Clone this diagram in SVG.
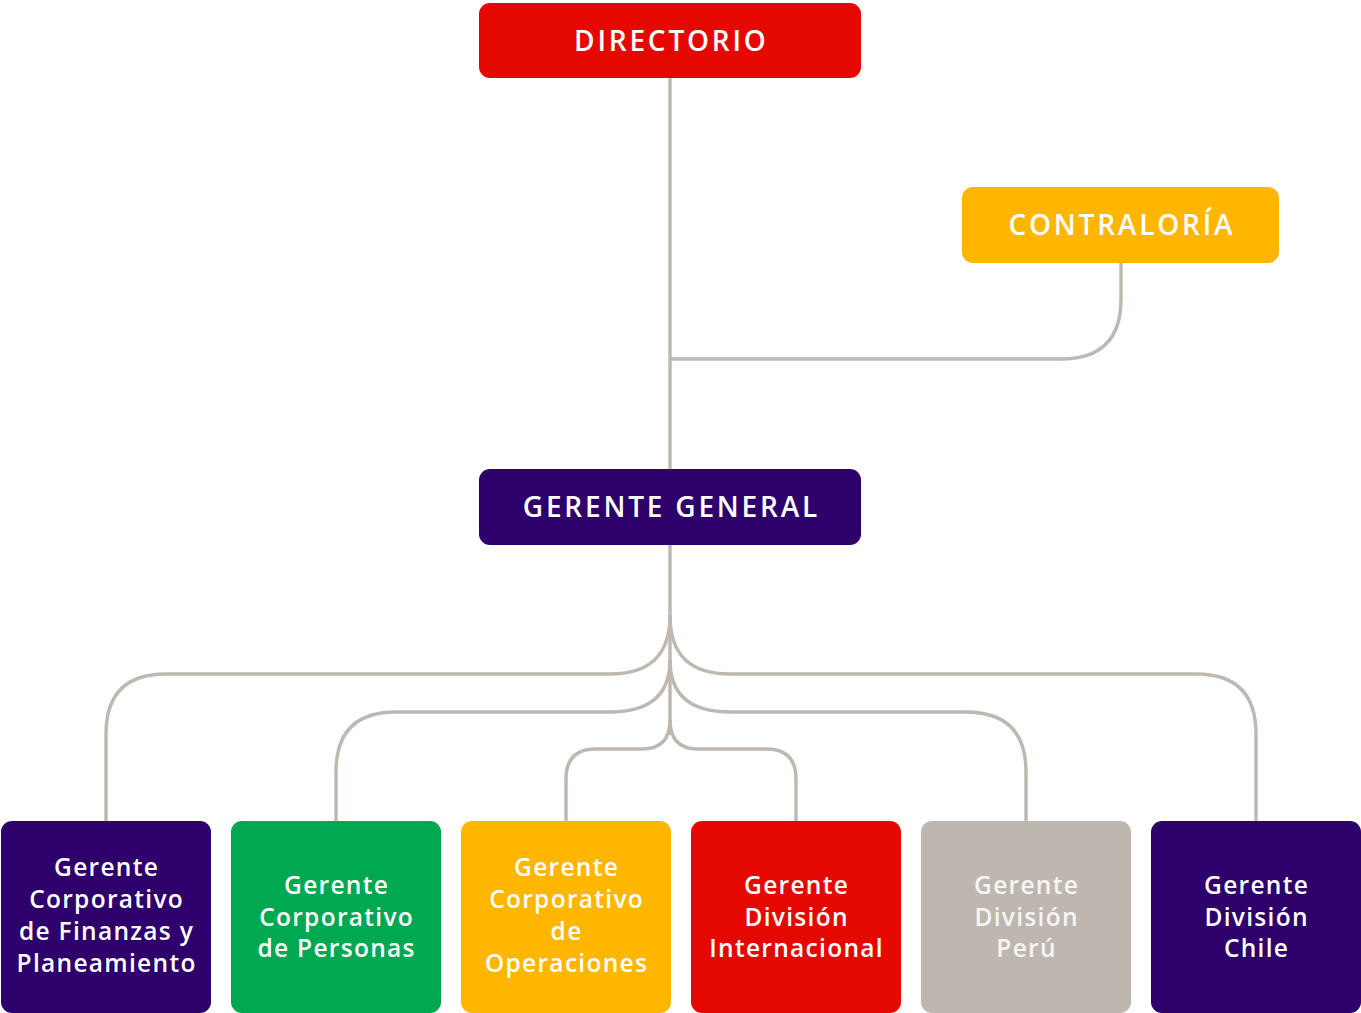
<svg xmlns="http://www.w3.org/2000/svg" width="1361" height="1013" viewBox="0 0 1361 1013">
<style>
.c{fill:none;stroke:#BFB8B1;stroke-width:3.4}
.h{font-family:"Open Sans","Liberation Sans",sans-serif;font-weight:600;font-size:28px;fill:#fff;text-anchor:middle;letter-spacing:2.8px}
.t{font-family:"Open Sans","Liberation Sans",sans-serif;font-weight:600;font-size:24.5px;fill:#fff;text-anchor:middle;letter-spacing:1.3px}
</style>
<rect width="1361" height="1013" fill="#fff"/>
<g id="connectors">
<path class="c" d="M670,78 V469"/>
<path class="c" d="M670,359 H1061 Q1121,359 1121,299 V263"/>
<path class="c" d="M670,545 V735"/>
<path class="c" d="M670,615 C670,655 650,674 610,674 H166 Q106,674 106,734 V821"/>
<path class="c" d="M670,615 C670,655 690,674 730,674 H1196 Q1256,674 1256,734 V821"/>
<path class="c" d="M670,660 C670,695 650,712 610,712 H396 Q336,712 336,772 V821"/>
<path class="c" d="M670,660 C670,695 690,712 730,712 H966 Q1026,712 1026,772 V821"/>
<path class="c" d="M670,720 C670,740 660,749 642,749 H596 Q566,749 566,779 V821"/>
<path class="c" d="M670,720 C670,740 680,749 698,749 H766 Q796,749 796,779 V821"/>
</g>
<g id="directorio"><rect x="479" y="3" width="382" height="75" rx="11" fill="#E50800"/><text class="h" x="671.4" y="51">DIRECTORIO</text></g>
<g id="contraloria"><rect x="962" y="187" width="317" height="76" rx="11" fill="#FFB600"/><text class="h" x="1121.9" y="235">CONTRALORÍA</text></g>
<g id="gerente-general"><rect x="479" y="469" width="382" height="76" rx="11" fill="#2E006B"/><text class="h" x="671.4" y="517">GERENTE GENERAL</text></g>
<g id="finanzas"><rect x="1" y="821" width="210" height="192" rx="11" fill="#2E006B"/><text class="t" x="106.6" y="876">Gerente</text><text class="t" x="106.6" y="908">Corporativo</text><text class="t" x="106.6" y="940">de Finanzas y</text><text class="t" x="106.6" y="972">Planeamiento</text></g>
<g id="personas"><rect x="231" y="821" width="210" height="192" rx="11" fill="#00A851"/><text class="t" x="336.6" y="894">Gerente</text><text class="t" x="336.6" y="925.5">Corporativo</text><text class="t" x="336.6" y="957">de Personas</text></g>
<g id="operaciones"><rect x="461" y="821" width="210" height="192" rx="11" fill="#FFB600"/><text class="t" x="566.6" y="876">Gerente</text><text class="t" x="566.6" y="908">Corporativo</text><text class="t" x="566.6" y="940">de</text><text class="t" x="566.6" y="972">Operaciones</text></g>
<g id="internacional"><rect x="691" y="821" width="210" height="192" rx="11" fill="#E50800"/><text class="t" x="796.6" y="894">Gerente</text><text class="t" x="796.6" y="925.5">División</text><text class="t" x="796.6" y="957">Internacional</text></g>
<g id="peru"><rect x="921" y="821" width="210" height="192" rx="11" fill="#BEB7B0"/><text class="t" x="1026.6" y="894" style="fill:#F6F5F3">Gerente</text><text class="t" x="1026.6" y="925.5" style="fill:#F6F5F3">División</text><text class="t" x="1026.6" y="957" style="fill:#F6F5F3">Perú</text></g>
<g id="chile"><rect x="1151" y="821" width="210" height="192" rx="11" fill="#2E006B"/><text class="t" x="1256.6" y="894">Gerente</text><text class="t" x="1256.6" y="925.5">División</text><text class="t" x="1256.6" y="957">Chile</text></g>
</svg>
